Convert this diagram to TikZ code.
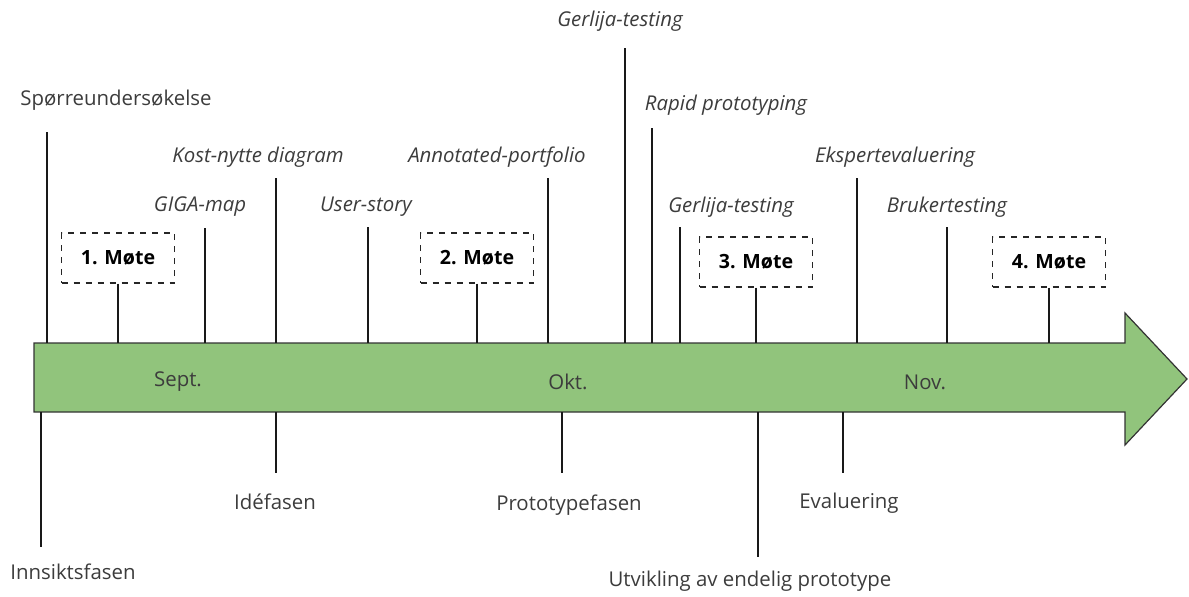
\documentclass[tikz,border=0pt]{standalone}
\usepackage{fontspec}
\setmainfont{Open Sans}
\usetikzlibrary{positioning}
\definecolor{bargreen}{RGB}{145,196,124}
\definecolor{labelgray}{RGB}{60,60,60}

\begin{document}
\begin{tikzpicture}[x=0.5pt,y=-0.5pt,font=\fontsize{10.2}{12}\selectfont,
  lbl/.style={text=labelgray,inner sep=1pt},
  tool/.style={lbl,font=\fontsize{10.2}{12}\selectfont\itshape},
  meet/.style={draw=black!85,dashed,line width=0.6pt,minimum width=56.5pt,minimum height=25pt,
    font=\fontsize{9.8}{12}\selectfont\bfseries},
  pin/.style={draw=black!90,line width=0.7pt}]
  \useasboundingbox (0,0) rectangle (1189,596);
  % timeline
  \draw[fill=bargreen,draw=black!80,line width=0.6pt]
    (34,343) -- (1125,343) -- (1125,313) -- (1187,379) -- (1125,445) -- (1125,412) -- (34,412) -- cycle;
  \coordinate (bartop) at (0,343);
  \coordinate (barbot) at (0,412);
  \node[lbl] (sept) at (178,382) {Sept.};
  \node[lbl] (okt) at (568,382) {Okt.};
  \node[lbl] (nov) at (925,382) {Nov.};
  % methods above the line
  \node[lbl] (survey) at (116,100) {Spørreundersøkelse};
  \coordinate (survey-pin) at (47,132);
  \draw[pin] (survey-pin) -- (survey-pin |- bartop);
  \foreach \n/\x/\t/\lx/\ly/\txt in {giga/205/228/200/207/GIGA-map,
      kost/276/178/258/157/Kost-nytte diagram,
      story/368/227/366/207/User-story,
      portf/548/178/497/157/Annotated-portfolio,
      gerA/625/48/620/21/Gerlija-testing,
      rapid/652/128/726/105/Rapid prototyping,
      gerB/680/227/731/207/Gerlija-testing,
      ekspert/857/178/895/157/Ekspertevaluering,
      bruker/947/227/947/207/Brukertesting}{
    \node[tool] (\n) at (\lx,\ly) {\txt};
    \coordinate (\n-pin) at (\x,\t);
    \draw[pin] (\n-pin) -- (\n-pin |- bartop);
  }
  % meetings
  \foreach \i/\x/\y in {1/118/258,2/477/258,3/756/262,4/1049/262}{
    \node[meet] (mote\i) at (\x,\y) {\i. Møte};
    \draw[pin] (mote\i) -- (mote\i |- bartop);
  }
  % phases below the line
  \foreach \n/\x/\b/\lx/\ly/\txt in {innsikt/41/547/73/572/Innsiktsfasen,
      ide/276/473/275/502/Idéfasen,
      proto/562/473/569/505/Prototypefasen,
      utvikling/758/557/750/581/Utvikling av endelig prototype,
      eval/843/473/849/503/Evaluering}{
    \node[lbl] (\n) at (\lx,\ly) {\txt};
    \coordinate (\n-pin) at (\x,\b);
    \draw[pin] (\n-pin |- barbot) -- (\n-pin);
  }
\end{tikzpicture}
\end{document}
